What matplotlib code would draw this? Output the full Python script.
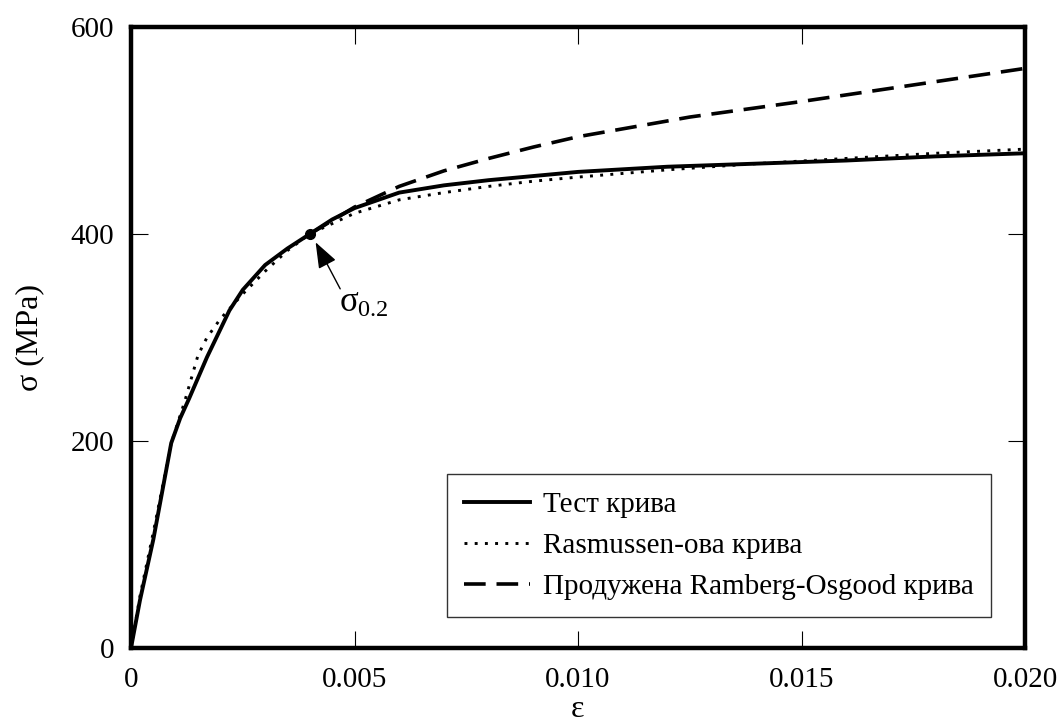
import matplotlib
matplotlib.use("Agg")
import matplotlib.pyplot as plt

# Stress-strain data (strain, stress in MPa)
eps_test = [0, 0.0002, 0.0005, 0.0009, 0.0011, 0.0013, 0.0017, 0.0022, 0.0025, 0.003,
            0.0035, 0.004, 0.0045, 0.005, 0.006, 0.007, 0.008, 0.009, 0.010, 0.012,
            0.014, 0.016, 0.018, 0.020]
sig_test = [0, 46, 105, 198, 222, 241, 281, 326, 346, 370,
            386, 400, 414, 425, 440, 447, 452, 456, 460, 465,
            468, 471, 475, 478]

eps_ras = [0, 0.0002, 0.0005, 0.0009, 0.0012, 0.0015, 0.0017, 0.002, 0.0025, 0.003,
           0.0035, 0.004, 0.005, 0.006, 0.007, 0.008, 0.009, 0.010, 0.012, 0.014,
           0.016, 0.018, 0.020]
sig_ras = [0, 50, 112, 198, 238, 283, 300, 318, 342, 364,
           384, 400, 420, 433, 440, 446, 451, 455, 462, 468,
           473, 478, 482]

eps_ro = [0.004, 0.005, 0.006, 0.007, 0.008, 0.009, 0.010, 0.0125, 0.015, 0.0175, 0.020]
sig_ro = [400, 426, 446, 461, 473, 484, 494, 513, 528, 544, 560]

proof_eps = 0.004
proof_sig = 400

x_ticks = [0, 0.005, 0.010, 0.015, 0.020]
x_tick_labels = ["0", "0.005", "0.010", "0.015", "0.020"]
y_ticks = [0, 200, 400, 600]
y_tick_labels = ["0", "200", "400", "600"]

plt.rcParams["font.family"] = ["Liberation Serif", "DejaVu Serif"]
plt.rcParams["mathtext.fontset"] = "custom"
plt.rcParams["mathtext.rm"] = "Liberation Serif"
plt.rcParams["mathtext.it"] = "Liberation Serif"

fig = plt.figure(figsize=(10.63, 7.24), dpi=100)
ax = fig.add_axes([131 / 1063, 76 / 724, 894 / 1063, 621 / 724])

ax.plot(eps_test, sig_test, color="black", lw=2.8, solid_joinstyle="round",
        label="Тест крива", zorder=4)
ax.plot(eps_ras, sig_ras, color="black", lw=2.1, linestyle=(0, (1.0, 2.5)),
        label="Rasmussen-ова крива", zorder=3)
ax.plot(eps_ro, sig_ro, color="black", lw=2.6, linestyle=(0, (6, 3)),
        label="Продужена Ramberg-Osgood крива", zorder=3)

ax.plot([proof_eps], [proof_sig], "o", color="black", ms=7, zorder=5)
ax.annotate("", xy=(0.00413, 392), xytext=(0.00468, 347),
            arrowprops=dict(arrowstyle="-|>,head_length=0.8,head_width=0.3",
                            color="black", lw=1.0, mutation_scale=20,
                            shrinkA=0, shrinkB=0))
ax.text(0.00466, 325, r"$\sigma_{0.2}$", fontsize=25, ha="left", va="baseline")

ax.set_xlim(0, 0.020)
ax.set_ylim(0, 600)
ax.set_xticks(x_ticks)
ax.set_xticklabels(x_tick_labels)
ax.set_yticks(y_ticks)
ax.set_yticklabels(y_tick_labels)
ax.tick_params(direction="in", length=12, width=0.8, labelsize=21,
               top=True, right=True)
ax.tick_params(axis="x", pad=14)
ax.tick_params(axis="y", pad=12)
for s in ax.spines.values():
    s.set_linewidth(3.2)

ax.set_xlabel("ε", fontsize=23, labelpad=1)
ax.set_ylabel("σ (MPa)", fontsize=23, labelpad=19)

leg = ax.legend(loc="lower right", bbox_to_anchor=(0.962, 0.050), borderaxespad=0,
                fontsize=21, frameon=True, fancybox=False, edgecolor="black",
                handlelength=2.26, handletextpad=0.45, borderpad=0.59,
                labelspacing=0.5)
leg.get_frame().set_linewidth(1.0)

fig.savefig("out.png", dpi=100, facecolor="white")
